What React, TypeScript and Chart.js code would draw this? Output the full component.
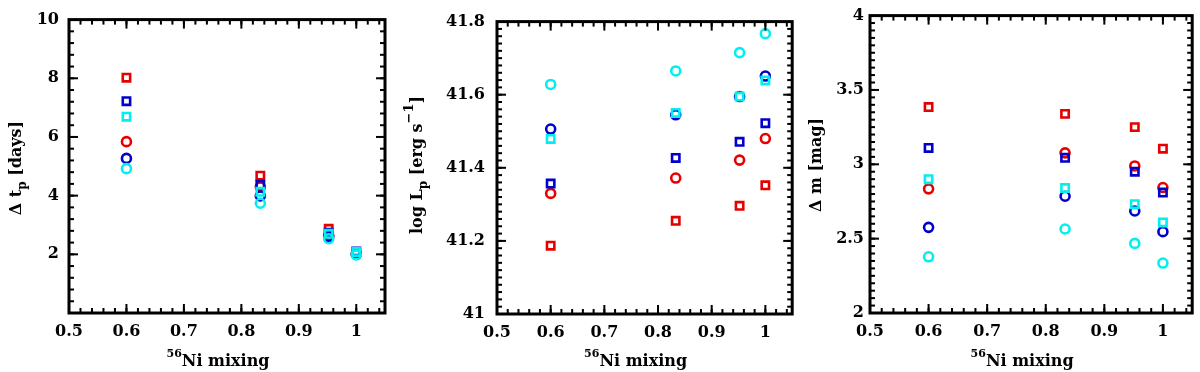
import React, { useEffect, useRef } from 'react';
import { Chart, registerables } from 'chart.js';
Chart.register(...registerables);

// ---------- data ----------
const mixing = [0.6, 0.833, 0.952, 1.0];
const xTickVals = [0.5, 0.6, 0.7, 0.8, 0.9, 1.0];
const xTickLabels = ['0.5', '0.6', '0.7', '0.8', '0.9', '1'];

// Panel 1: Δt_p [days]
const dtRedSq = [8.02, 4.68, 2.87, 2.08];
const dtRedCi = [5.84, 4.3, 2.65, 2.0];
const dtBlueSq = [7.22, 4.37, 2.74, 2.1];
const dtBlueCi = [5.27, 3.99, 2.6, 2.0];
const dtCyanSq = [6.69, 4.13, 2.7, 2.08];
const dtCyanCi = [4.92, 3.74, 2.53, 1.98];
const dtTickVals = [2, 4, 6, 8, 10];
const dtTickLabels = ['2', '4', '6', '8', '10'];

// Panel 2: log L_p [erg s^-1]
const lRedSq = [41.187, 41.255, 41.296, 41.352];
const lRedCi = [41.33, 41.372, 41.421, 41.48];
const lBlueSq = [41.357, 41.427, 41.471, 41.522];
const lBlueCi = [41.506, 41.545, 41.595, 41.651];
const lCyanSq = [41.479, 41.55, 41.595, 41.639];
const lCyanCi = [41.628, 41.665, 41.715, 41.767];
const lTickVals = [41, 41.2, 41.4, 41.6, 41.8];
const lTickLabels = ['41', '41.2', '41.4', '41.6', '41.8'];

// Panel 3: Δm [mag]
const mRedSq = [3.385, 3.339, 3.25, 3.105];
const mRedCi = [2.835, 3.077, 2.989, 2.844];
const mBlueSq = [3.11, 3.044, 2.95, 2.81];
const mBlueCi = [2.576, 2.785, 2.686, 2.547];
const mCyanSq = [2.9, 2.84, 2.732, 2.609];
const mCyanCi = [2.378, 2.565, 2.468, 2.336];
const mTickVals = [2, 2.5, 3, 3.5, 4];
const mTickLabels = ['2', '2.5', '3', '3.5', '4'];

const RED = '#e60000';
const BLUE = '#0000cc';
const CYAN = '#00f0f0';
const FONT = '"DejaVu Serif", "Liberation Serif", serif';
const X_MIN = 0.5;
const X_MAX = 1.05;
const X_MINOR = 0.02;

type Seg = { t: string; size: number; dy: number };

function drawSegs(ctx: CanvasRenderingContext2D, segs: Seg[], cx: number, baseY: number) {
  let total = 0;
  const widths = segs.map((s) => {
    ctx.font = `bold ${s.size}px ${FONT}`;
    const w = ctx.measureText(s.t).width;
    total += w;
    return w;
  });
  let x = cx - total / 2;
  ctx.textAlign = 'left';
  ctx.textBaseline = 'alphabetic';
  segs.forEach((s, i) => {
    ctx.font = `bold ${s.size}px ${FONT}`;
    ctx.fillText(s.t, x, baseY + s.dy);
    x += widths[i];
  });
}

type PanelCfg = {
  offset: number;
  plot: { left: number; top: number; right: number; bottom: number };
  yMin: number;
  yMax: number;
  yTickVals: number[];
  yTickLabels: string[];
  yMajor: number;
  yMinor: number;
  yPad: number;
  yTitle: Seg[];
  yTitleX: number;
  yTitleY: number;
  series: number[][]; // redSq, redCi, blueSq, blueCi, cyanSq, cyanCi
};

const xTitle: Seg[] = [
  { t: '56', size: 11, dy: -9 },
  { t: 'Ni mixing', size: 16, dy: 0 },
];

const panels: PanelCfg[] = [
  {
    offset: 0,
    plot: { left: 69, top: 15, right: 385, bottom: 313 },
    yMin: 0, yMax: 10, yTickVals: dtTickVals, yTickLabels: dtTickLabels,
    yMajor: 2, yMinor: 0.4, yPad: 10,
    yTitle: [
      { t: 'Δ t', size: 16, dy: 0 },
      { t: 'p', size: 12, dy: 5 },
      { t: ' [days]', size: 16, dy: 0 },
    ],
    yTitleX: 21, yTitleY: 168,
    series: [dtRedSq, dtRedCi, dtBlueSq, dtBlueCi, dtCyanSq, dtCyanCi],
  },
  {
    offset: 400,
    plot: { left: 97, top: 12, right: 393, bottom: 314 },
    yMin: 41, yMax: 41.8, yTickVals: lTickVals, yTickLabels: lTickLabels,
    yMajor: 0.2, yMinor: 0.02, yPad: 12,
    yTitle: [
      { t: 'log L', size: 16, dy: 0 },
      { t: 'p', size: 12, dy: 5 },
      { t: ' [erg s', size: 16, dy: 0 },
      { t: '−1', size: 13, dy: -9 },
      { t: ']', size: 16, dy: 0 },
    ],
    yTitleX: 22, yTitleY: 165,
    series: [lRedSq, lRedCi, lBlueSq, lBlueCi, lCyanSq, lCyanCi],
  },
  {
    offset: 800,
    plot: { left: 70, top: 10, right: 394, bottom: 313 },
    yMin: 2, yMax: 4, yTickVals: mTickVals, yTickLabels: mTickLabels,
    yMajor: 0.5, yMinor: 0.05, yPad: 6,
    yTitle: [{ t: 'Δ m [mag]', size: 16, dy: 0 }],
    yTitleX: 21, yTitleY: 165,
    series: [mRedSq, mRedCi, mBlueSq, mBlueCi, mCyanSq, mCyanCi],
  },
];

function makeChart(canvas: HTMLCanvasElement, p: PanelCfg) {
  const styles = [
    { color: RED, style: 'rect' },
    { color: RED, style: 'circle' },
    { color: BLUE, style: 'rect' },
    { color: BLUE, style: 'circle' },
    { color: CYAN, style: 'rect' },
    { color: CYAN, style: 'circle' },
  ];
  const datasets = p.series.map((vals, i) => ({
    data: mixing.map((x, j) => ({ x, y: vals[j] })),
    pointStyle: styles[i].style,
    pointRadius: styles[i].style === 'rect' ? 5.2 : 4.5,
    pointBorderWidth: 2.6,
    borderColor: styles[i].color,
    backgroundColor: 'rgba(0,0,0,0)',
    pointBackgroundColor: 'rgba(0,0,0,0)',
    pointBorderColor: styles[i].color,
    showLine: false,
  }));
  // first dataset is drawn on top in Chart.js: reverse so red is at bottom, cyan on top
  datasets.reverse();

  const framePlugin = {
    id: 'idlFrame',
    afterDraw(chart: any) {
      const ctx: CanvasRenderingContext2D = chart.ctx;
      const area = chart.chartArea;
      const L = area.left, R = area.right, T = area.top, B = area.bottom;
      const xs = chart.scales.x;
      const ys = chart.scales.y;
      ctx.save();
      ctx.fillStyle = '#000';
      const tickX = (v: number, len: number) => {
        const px = xs.getPixelForValue(v);
        ctx.fillRect(px - 1, B - len, 2, len);
        ctx.fillRect(px - 1, T, 2, len);
      };
      const tickY = (v: number, len: number) => {
        const py = ys.getPixelForValue(v);
        ctx.fillRect(L, py - 1, len, 2);
        ctx.fillRect(R - len, py - 1, len, 2);
      };
      const nxm = Math.floor((X_MAX - X_MIN) / X_MINOR + 1e-6);
      for (let i = 1; i <= nxm; i++) tickX(X_MIN + i * X_MINOR, 5);
      for (let i = 1; i <= 5; i++) tickX(X_MIN + i * 0.1, 9);
      const nym = Math.round((p.yMax - p.yMin) / p.yMinor);
      for (let i = 1; i < nym; i++) tickY(p.yMin + i * p.yMinor, 5);
      const nyM = Math.round((p.yMax - p.yMin) / p.yMajor);
      for (let i = 1; i < nyM; i++) tickY(p.yMin + i * p.yMajor, 9);
      // frame
      ctx.strokeStyle = '#000';
      ctx.lineWidth = 3;
      ctx.strokeRect(L, T, R - L, B - T);
      // titles
      drawSegs(ctx, xTitle, (L + R) / 2 - 9, 366);
      ctx.translate(p.yTitleX, p.yTitleY);
      ctx.rotate(-Math.PI / 2);
      drawSegs(ctx, p.yTitle, 0, 0);
      ctx.restore();
    },
  };

  return new Chart(canvas, {
    type: 'scatter',
    data: { datasets: datasets as any },
    options: {
      responsive: false,
      animation: false,
      devicePixelRatio: 1,
      layout: { padding: { left: 0, bottom: 0, top: p.plot.top, right: 400 - p.plot.right } },
      plugins: { legend: { display: false }, tooltip: { enabled: false } },
      scales: {
        x: {
          type: 'linear',
          min: X_MIN,
          max: X_MAX,
          grid: { display: false, drawTicks: false },
          border: { display: false },
          afterBuildTicks: (s: any) => { s.ticks = xTickVals.map((v) => ({ value: v })); },
          afterFit: (s: any) => { s.height = 372 - p.plot.bottom; },
          ticks: {
            autoSkip: false,
            maxRotation: 0,
            padding: 9,
            color: '#000',
            font: { family: FONT, size: 16, weight: 'bold' },
            callback: (v: any) => {
              const i = xTickVals.findIndex((t) => Math.abs(t - v) < 1e-6);
              return i >= 0 ? xTickLabels[i] : '';
            },
          },
        },
        y: {
          type: 'linear',
          min: p.yMin,
          max: p.yMax,
          grid: { display: false, drawTicks: false },
          border: { display: false },
          afterBuildTicks: (s: any) => { s.ticks = p.yTickVals.map((v) => ({ value: v })); },
          afterFit: (s: any) => { s.width = p.plot.left; },
          ticks: {
            autoSkip: false,
            padding: p.yPad,
            color: '#000',
            font: { family: FONT, size: 16, weight: 'bold' },
            callback: (v: any) => {
              const i = p.yTickVals.findIndex((t) => Math.abs(t - v) < 1e-6);
              return i >= 0 ? p.yTickLabels[i] : '';
            },
          },
        },
      },
    } as any,
    plugins: [framePlugin],
  });
}

function Panel({ cfg }: { cfg: PanelCfg }) {
  const ref = useRef<HTMLCanvasElement>(null);
  useEffect(() => {
    if (!ref.current) return;
    const c = makeChart(ref.current, cfg);
    return () => c.destroy();
  }, [cfg]);
  return (
    <canvas
      ref={ref}
      width={400}
      height={372}
      style={{ position: 'absolute', left: cfg.offset, top: 0, width: 400, height: 372, display: 'block' }}
    />
  );
}

export default function App() {
  return (
    <div style={{ position: 'fixed', left: 0, top: 0, width: 1200, height: 372, background: '#fff', overflow: 'hidden' }}>
      {panels.map((p, i) => (
        <Panel key={i} cfg={p} />
      ))}
    </div>
  );
}
